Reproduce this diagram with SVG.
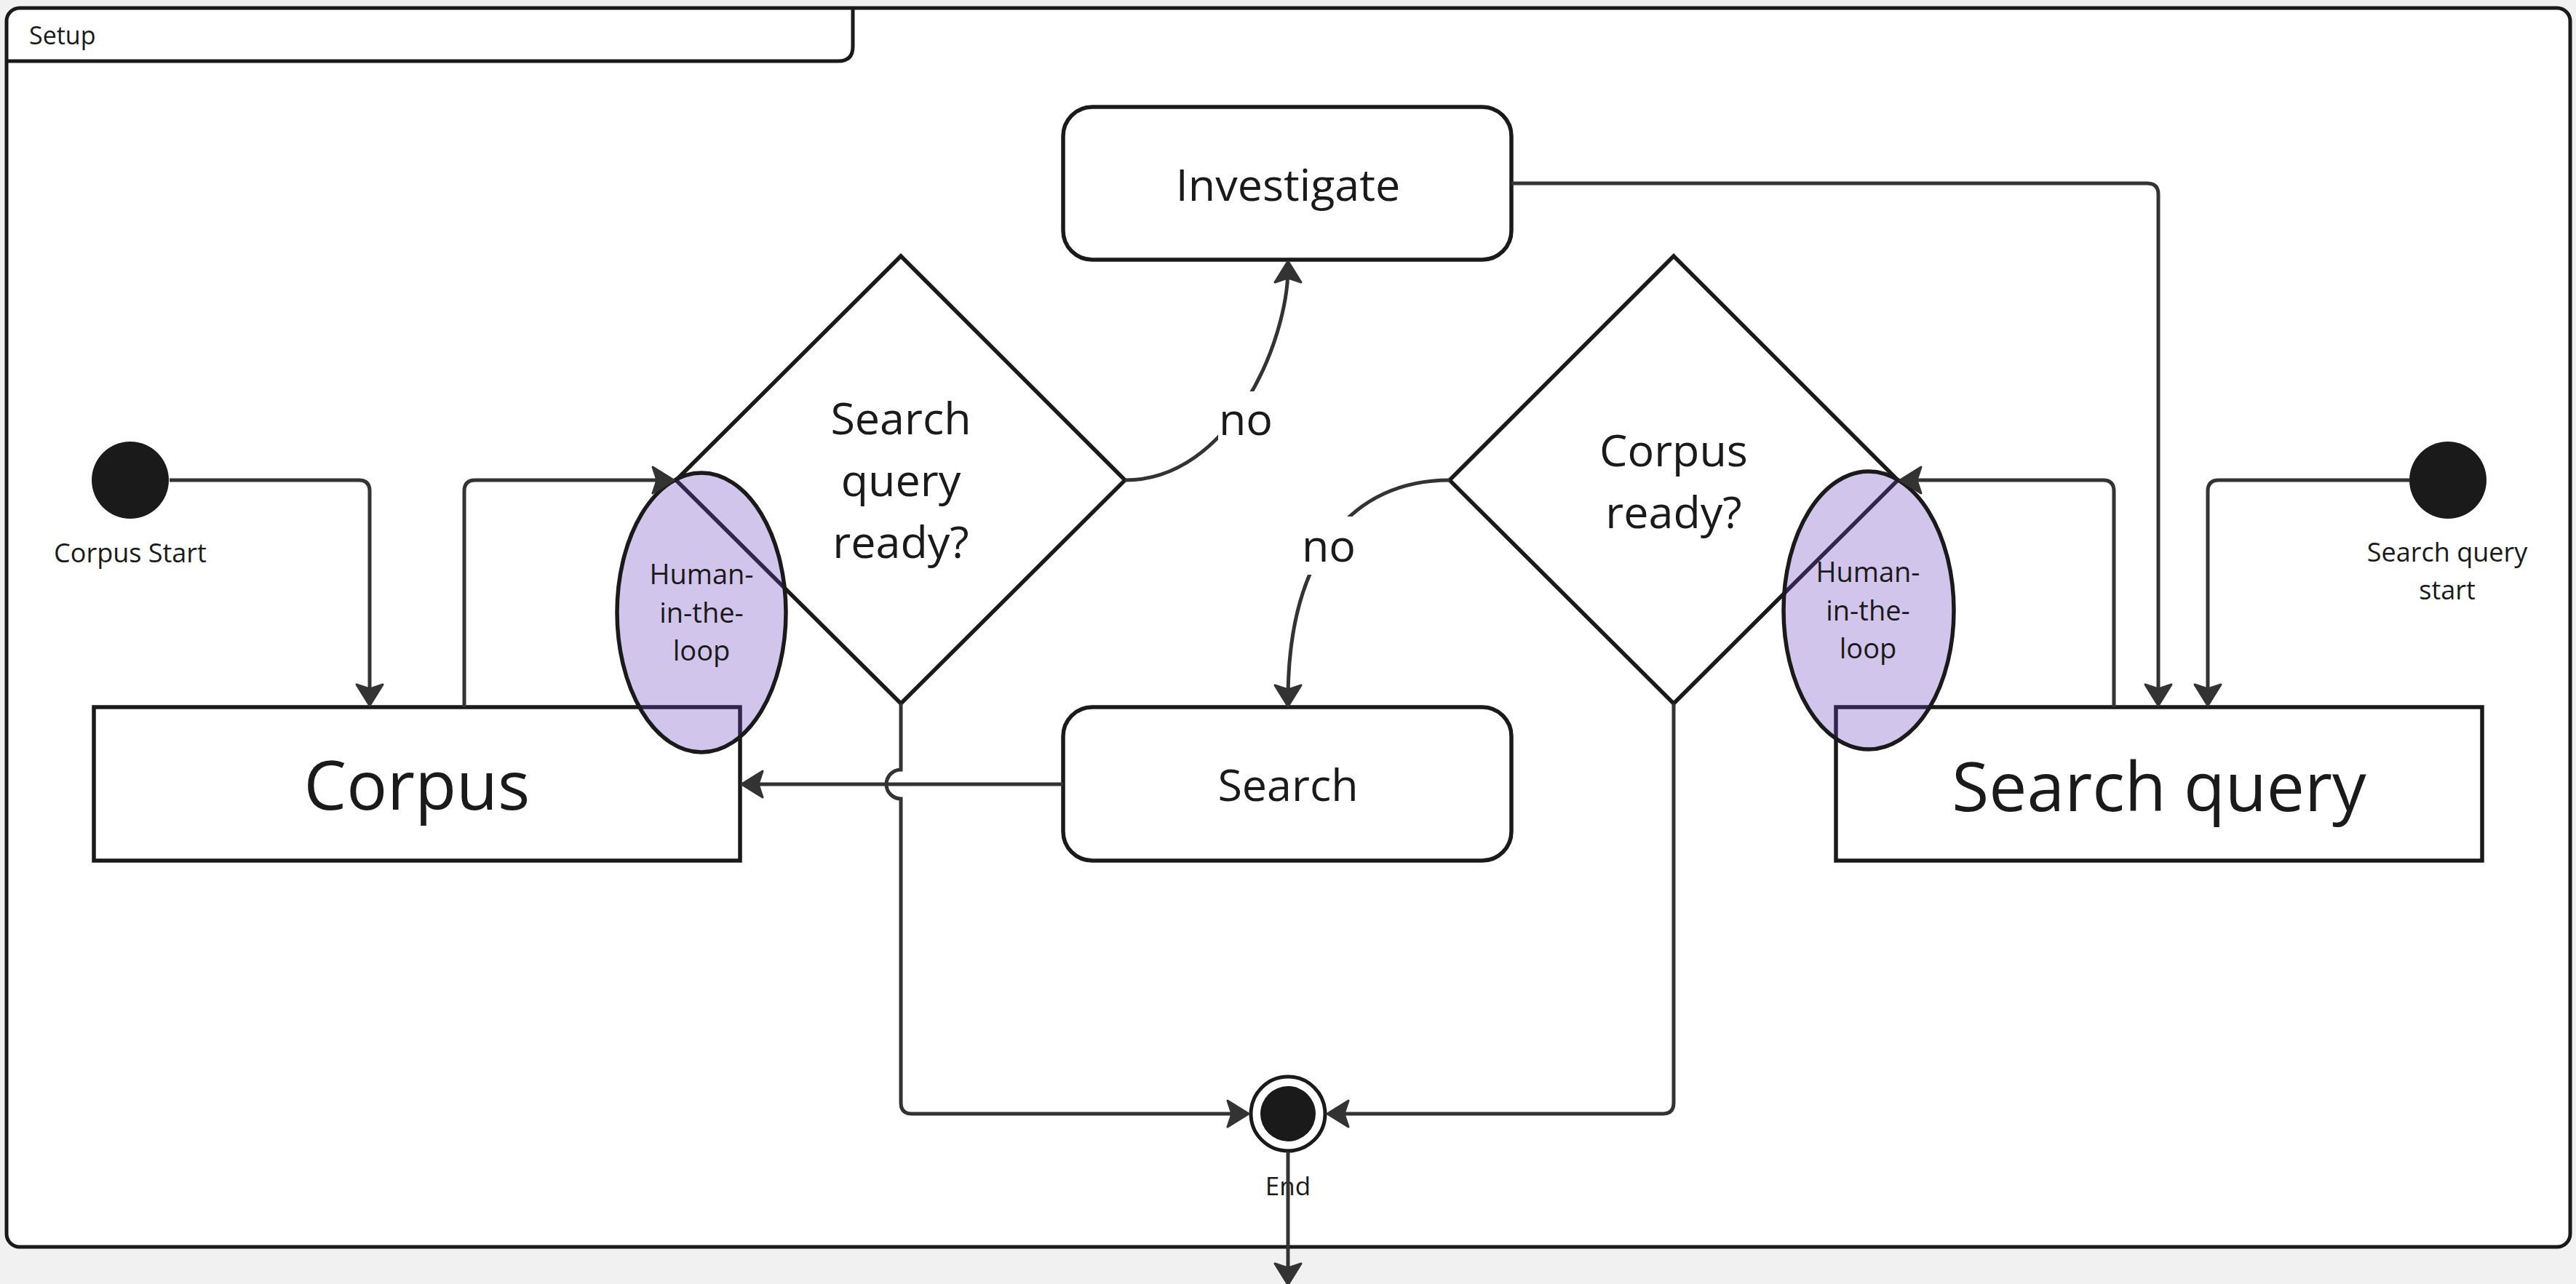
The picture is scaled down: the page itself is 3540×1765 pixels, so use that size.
<svg xmlns="http://www.w3.org/2000/svg" width="3540" height="1765" viewBox="0 0 3540 1765">
<style>
.t{font-family:"Open Sans","Noto Sans","Liberation Sans",sans-serif;fill:#1a1a1a;text-anchor:middle}
.big{font-size:93px}
.mid{font-size:61px}
.sm{font-size:36px}
.hl{font-size:38px}
.shape{fill:#ffffff;stroke:#1a1a1a;stroke-width:5.5}
.hitl{fill:#6a3fc0;fill-opacity:0.3;stroke:#1a1a1a;stroke-width:5.5}
.dot{fill:#1a1a1a}
.c{fill:none;stroke:#333333;stroke-width:5;marker-end:url(#ah)}
</style>
<defs>
<marker id="ah" markerUnits="userSpaceOnUse" viewBox="-28 -24 42 48" refX="0" refY="0" markerWidth="42" markerHeight="48" orient="auto">
<path d="M9,0 L-20,-18 L-14,0 L-20,18 Z" fill="#333333" stroke="#333333" stroke-width="3" stroke-linejoin="round"/>
</marker>
</defs>
<rect x="0" y="0" width="3540" height="1765" fill="#f1f1f1"/>
<g id="frame-setup">
<rect x="9" y="11" width="3523" height="1703" rx="18" fill="#ffffff" stroke="#1a1a1a" stroke-width="5"/>
<path d="M9,84 H1152 Q1172,84 1172,64 V11" fill="none" stroke="#1a1a1a" stroke-width="5"/>
<text x="40" y="61" style="font-family:'Open Sans','Noto Sans','Liberation Sans',sans-serif;font-size:34px;fill:#1a1a1a">Setup</text>
</g>
<g id="corpus-start">
<circle cx="179" cy="660" r="53" class="dot"/>
<text x="179" y="773" class="t sm">Corpus Start</text>
</g>
<g id="search-query-start">
<circle cx="3364" cy="660" r="53" class="dot"/>
<text x="3363" y="772" class="t sm">Search query</text>
<text x="3363" y="824" class="t sm">start</text>
</g>
<g id="corpus">
<rect x="129" y="972" width="888" height="211" class="shape"/>
<text x="573" y="1113" class="t big">Corpus</text>
</g>
<g id="search-query">
<rect x="2523" y="972" width="888" height="211" class="shape"/>
<text x="2967" y="1115" class="t big">Search query</text>
</g>
<g id="investigate">
<rect x="1461" y="147" width="616" height="210" rx="40" class="shape"/>
<text x="1770" y="276" class="t mid">Investigate</text>
</g>
<g id="search">
<rect x="1461" y="972" width="616" height="211" rx="40" class="shape"/>
<text x="1770" y="1101" class="t mid">Search</text>
</g>
<g id="search-query-ready">
<polygon points="1238,352 1546,660 1238,967 929,660" class="shape"/>
<text x="1238" y="597" class="t mid">Search</text>
<text x="1238" y="682" class="t mid">query</text>
<text x="1238" y="767" class="t mid">ready?</text>
</g>
<g id="corpus-ready">
<polygon points="2300,352 2608,660 2300,967 1992,660" class="shape"/>
<text x="2300" y="641" class="t mid">Corpus</text>
<text x="2300" y="726" class="t mid">ready?</text>
</g>
<g id="end">
<circle cx="1770" cy="1531" r="51" fill="#ffffff" stroke="#1a1a1a" stroke-width="5"/>
<circle cx="1770" cy="1531" r="38" class="dot"/>
<text x="1770" y="1643" class="t" style="font-size:35px">End</text>
</g>
<g id="human-in-the-loop-1">
<ellipse cx="964" cy="842" rx="116" ry="192" class="hitl"/>
<text x="964" y="803" class="t hl">Human-</text>
<text x="964" y="856" class="t hl">in-the-</text>
<text x="964" y="908" class="t hl">loop</text>
</g>
<g id="human-in-the-loop-2">
<ellipse cx="2568" cy="839" rx="117" ry="191" class="hitl"/>
<text x="2567" y="800" class="t hl">Human-</text>
<text x="2567" y="853" class="t hl">in-the-</text>
<text x="2567" y="905" class="t hl">loop</text>
</g>
<g id="connectors">
<path class="c" d="M233,660 H493 Q508,660 508,675 V961"/>
<path class="c" d="M638,972 V675 Q638,660 653,660 H917"/>
<path class="c" d="M1546,660 C1690,660 1770,470 1770,368"/>
<path class="c" d="M2077,252 H2951 Q2966,252 2966,267 V961"/>
<path class="c" d="M3311,660 H3049 Q3034,660 3034,675 V961"/>
<path class="c" d="M2905,972 V675 Q2905,660 2890,660 H2620"/>
<path class="c" d="M1992,660 C1860,660 1770,760 1770,962"/>
<path class="c" d="M1461,1078 H1028"/>
<path class="c" d="M1238,967 V1058 A20,20 0 0 0 1238,1098 V1516 Q1238,1531 1253,1531 H1707"/>
<path class="c" d="M2300,967 V1516 Q2300,1531 2285,1531 H1833"/>
<path class="c" d="M1770,1583 V1757"/>
<g id="label-no-1">
<rect x="1674" y="538" width="76" height="80" fill="#ffffff"/>
<text x="1712" y="598" class="t mid">no</text>
</g>
<g id="label-no-2">
<rect x="1788" y="710" width="76" height="80" fill="#ffffff"/>
<text x="1826" y="772" class="t mid">no</text>
</g>
</g>
</svg>
